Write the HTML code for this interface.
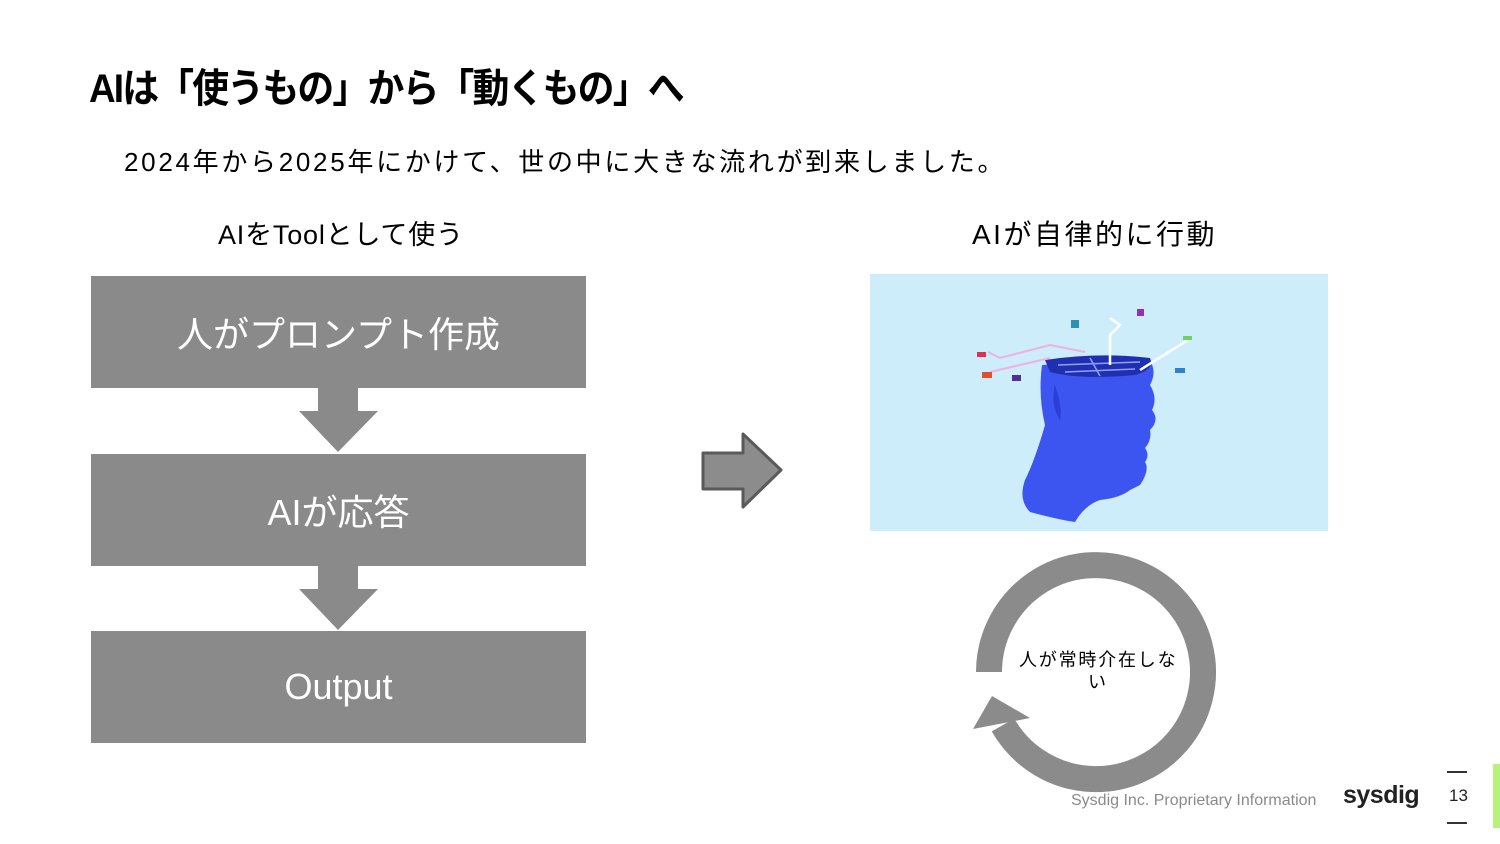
<!DOCTYPE html>
<html><head><meta charset="utf-8"><style>
body{margin:0;width:1500px;height:844px;background:#fff;position:relative;overflow:hidden;font-family:"Liberation Sans","Noto Sans CJK JP",sans-serif;}
.a{position:absolute;white-space:nowrap;}
.box{position:absolute;left:91px;width:495px;height:112px;background:#8a8a8a;color:#fff;font-size:36px;display:flex;align-items:center;justify-content:center;}
</style></head><body>
<div class="a" style="left:89px;top:56px;font-size:40px;font-weight:bold;letter-spacing:-2px;transform:scaleX(0.922);transform-origin:left;">AIは「使うもの」から「動くもの」へ</div>
<div class="a" style="left:124px;top:142px;font-size:26px;letter-spacing:2.7px;">2024年から2025年にかけて、世の中に大きな流れが到来しました。</div>
<div class="a" style="left:218px;top:213px;font-size:27px;letter-spacing:0.8px;">AIをToolとして使う</div>
<div class="a" style="left:972px;top:213px;font-size:28px;letter-spacing:2.5px;">AIが自律的に行動</div>
<div class="box" style="top:276px">人がプロンプト作成</div>
<div class="box" style="top:454px">AIが応答</div>
<div class="box" style="top:631px">Output</div>
<svg class="a" style="left:0;top:0" width="1500" height="844">
<polygon points="318,388 358,388 358,411 378,411 338,452 299,411 318,411" fill="#8a8a8a"/>
<polygon points="318,566 358,566 358,589 378,589 338,630 299,589 318,589" fill="#8a8a8a"/>
<polygon points="703,453 743,453 743,434 781,470 743,507 743,489 703,489" fill="#8c8c8c" stroke="#5a5a5a" stroke-width="3" stroke-linejoin="round"/>
<rect x="870" y="274" width="458" height="257" fill="#cdedfb"/>
<g>
<path d="M1042,365 Q1038,395 1045,425 Q1035,460 1025,480 Q1018,500 1030,512 Q1060,520 1075,522 Q1085,505 1100,500 Q1120,498 1130,490 L1140,485 Q1150,470 1145,462 Q1150,455 1145,448 Q1152,440 1150,430 Q1160,420 1152,410 Q1158,398 1150,385 Q1158,370 1148,358 Z" fill="#3d55f0"/>
<path d="M1045,360 Q1100,352 1150,358 Q1155,370 1135,375 Q1080,380 1050,372 Z" fill="#1f2fb0"/>
<path d="M1058,365 L1140,362 M1065,372 L1135,369 M1090,358 L1100,376" stroke="#8fa0ff" stroke-width="1.5"/>
<path d="M1055,385 Q1050,405 1060,420 Q1062,410 1058,395 Z" fill="#2a3fd8"/>
<path d="M988,352 L1000,358 L1050,345 L1085,352 M990,372 L1050,358" stroke="#f0b0e0" stroke-width="2" fill="none"/>
<path d="M1110,365 L1110,335 L1120,325 L1110,318 M1140,370 L1188,340" stroke="#fff" stroke-width="2.5" fill="none"/>
<rect x="977" y="352" width="9" height="5" fill="#e03050"/><rect x="982" y="372" width="10" height="6" fill="#e05030"/>
<rect x="1012" y="375" width="9" height="6" fill="#503090"/><rect x="1071" y="320" width="8" height="8" fill="#3090b0"/>
<rect x="1137" y="309" width="7" height="7" fill="#9030c0"/><rect x="1183" y="336" width="9" height="4" fill="#70d060"/>
<rect x="1175" y="368" width="10" height="5" fill="#3080d0"/>
</g>
<path d="M989,672 A107,107 0 1 1 1003,725" fill="none" stroke="#8b8b8b" stroke-width="26"/>
<polygon points="973,729 992,696 1030,718" fill="#8b8b8b"/>
<line x1="1447" y1="772" x2="1467" y2="772" stroke="#333" stroke-width="2"/>
<line x1="1447" y1="823" x2="1467" y2="823" stroke="#333" stroke-width="2"/>
<rect x="1493" y="764" width="7" height="64" fill="#b7f27a"/>
</svg>
<div class="a" style="left:1019px;top:650px;font-size:18px;line-height:21px;letter-spacing:1.8px;">人が常時介在しな</div>
<div class="a" style="left:1088px;top:672px;font-size:18px;line-height:21px;">い</div>
<div class="a" style="left:1071px;top:792px;font-size:16px;color:#8a8a8a;">Sysdig Inc. Proprietary Information</div>
<div class="a" style="left:1343px;top:781px;font-size:25px;font-weight:bold;color:#222;letter-spacing:-0.5px;">sysdig</div>
<div class="a" style="left:1449px;top:786px;font-size:17px;color:#222;">13</div>
</body></html>
